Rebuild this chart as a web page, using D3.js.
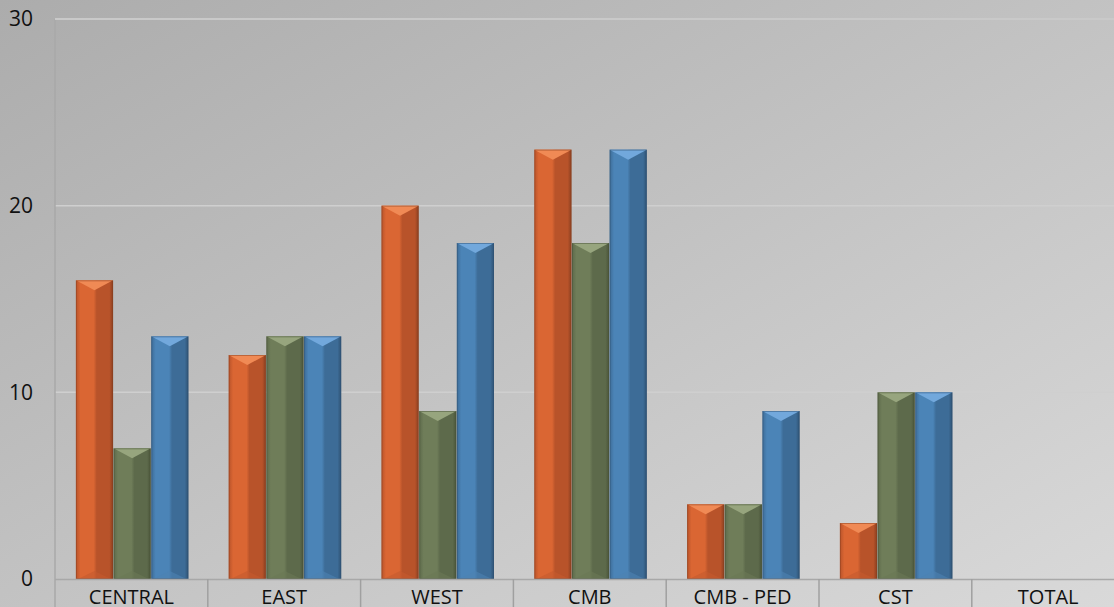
<!DOCTYPE html>
<html><head><meta charset="utf-8">
<script src="https://cdn.jsdelivr.net/npm/d3@7"></script>
<style>html,body{margin:0;padding:0;overflow:hidden;background:#c0c0c0}</style>
</head><body>
<script>
const categories = ["CENTRAL","EAST","WEST","CMB","CMB - PED","CST","TOTAL"];
const series1 = [16,12,20,23,4,3,null];
const series2 = [7,13,9,18,4,10,null];
const series3 = [13,13,18,23,9,10,null];
const yTicks = [0,10,20,30];

const W=1114,H=607;
const svg=d3.select("body").append("svg").attr("width",W).attr("height",H);
const defs=svg.append("defs");
const bg=defs.append("linearGradient").attr("id","bg").attr("x1","0").attr("y1","0").attr("x2","1").attr("y2","1");
bg.append("stop").attr("offset","0").attr("stop-color","#acacac");
bg.append("stop").attr("offset","1").attr("stop-color","#d9d9d9");
svg.append("rect").attr("width",W).attr("height",H).attr("fill","url(#bg)");

const colors=[
 {base:"#d4602e",light:"#da6633",dark:"#b8532a",cap:"#f08a55",bot:"#c45a2e",edge:"#8a3f20"},
 {base:"#6c7a58",light:"#6f7d59",dark:"#5d6a4b",cap:"#97a57e",bot:"#6a7855",edge:"#4a5439"},
 {base:"#4a80b1",light:"#4b84b7",dark:"#3d6c97",cap:"#72a8dc",bot:"#4d82b2",edge:"#2f5273"}
];
colors.forEach((c,i)=>{
 const g=defs.append("linearGradient").attr("id","g"+i);
 g.append("stop").attr("offset","0").attr("stop-color",c.dark);
 g.append("stop").attr("offset","0.12").attr("stop-color",c.light);
 g.append("stop").attr("offset","0.48").attr("stop-color",c.light);
 g.append("stop").attr("offset","0.56").attr("stop-color",c.dark);
 g.append("stop").attr("offset","0.9").attr("stop-color",c.dark);
 g.append("stop").attr("offset","1").attr("stop-color",c.edge);
});

const x0=55,x1=55+7*152.8,yTop=19,yBot=579;
const y=d3.scaleLinear().domain([0,30]).range([yBot,yTop]);
const xb=d3.scaleBand().domain(categories).range([x0,x1]).paddingInner(0).paddingOuter(0);

// gridlines
svg.append("g").selectAll("line").data(yTicks.filter(d=>d>0)).join("line")
 .attr("x1",x0).attr("x2",W).attr("y1",d=>y(d)).attr("y2",d=>y(d))
 .attr("stroke","#cfcfcf").attr("stroke-width",1.5);

// y labels
svg.append("g").selectAll("text").data(yTicks).join("text")
 .attr("x",33).attr("y",d=>y(d)).attr("dy","0.35em").attr("text-anchor","end")
 .attr("font-family","Open Sans, sans-serif").attr("font-size",21).attr("fill","#111")
 .text(d=>d);

const seriesAll=[series1,series2,series3];
const groupW=113;
const xs=d3.scaleBand().domain([0,1,2]).range([0,groupW]).padding(0);

categories.forEach((cat,ci)=>{
 const gx=xb(cat)+(xb.bandwidth()-groupW)/2+1;
 seriesAll.forEach((s,si)=>{
  const v=s[ci]; if(v==null||v===0) return;
  const c=colors[si];
  const bx=gx+xs(si), bw=xs.bandwidth()-0.5, top=y(v), h=yBot-top;
  const cap=Math.min(10,h/2);
  const g=svg.append("g");
  g.append("rect").attr("x",bx).attr("y",top).attr("width",bw).attr("height",h).attr("fill","url(#g"+si+")");
  g.append("polygon").attr("points",[[bx,top],[bx+bw,top],[bx+bw/2,top+cap]].map(p=>p.join(",")).join(" ")).attr("fill",c.cap);
  g.append("polygon").attr("points",[[bx+2,yBot],[bx+bw-2,yBot],[bx+bw/2,yBot-cap*0.8]].map(p=>p.join(",")).join(" ")).attr("fill",c.bot).attr("opacity",0.6);
  g.append("rect").attr("x",bx+0.5).attr("y",top+0.5).attr("width",bw-1).attr("height",h-1).attr("fill","none").attr("stroke",c.edge).attr("stroke-opacity",0.5);
 });
});

// axes lines
svg.append("line").attr("x1",x0).attr("x2",W).attr("y1",yBot+0.5).attr("y2",yBot+0.5).attr("stroke","#a8a8a8").attr("stroke-width",1.5);
svg.append("line").attr("x1",x0).attr("x2",x0).attr("y1",yTop).attr("y2",H).attr("stroke","#a8a8a8").attr("stroke-width",1.5);
svg.append("line").attr("x1",x0).attr("x2",W).attr("y1",yTop).attr("y2",yTop).attr("stroke","#c9c9c9").attr("stroke-width",2);
svg.append("g").selectAll("line").data(categories.slice(1)).join("line")
 .attr("x1",d=>xb(d)).attr("x2",d=>xb(d)).attr("y1",yBot).attr("y2",H)
 .attr("stroke","#a0a0a0").attr("stroke-width",1.5);
svg.append("g").selectAll("text").data(categories).join("text")
 .attr("x",d=>xb(d)+xb.bandwidth()/2).attr("y",604).attr("text-anchor","middle")
 .attr("font-family","Open Sans, sans-serif").attr("font-size",20).attr("fill","#111")
 .text(d=>d);
</script>
</body></html>
